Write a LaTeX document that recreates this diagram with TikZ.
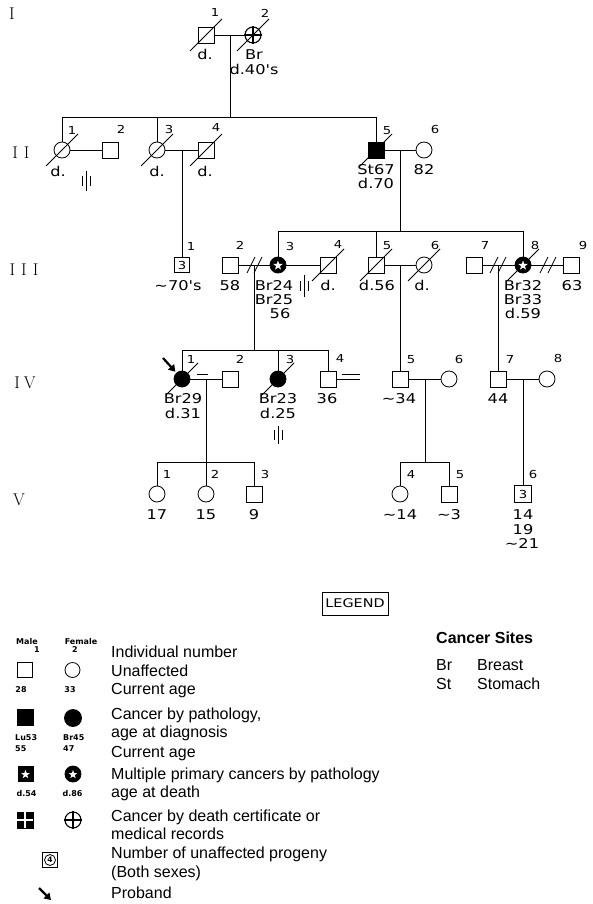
\documentclass[tikz,border=0pt]{standalone}
\usepackage{fontspec}
\newfontfamily\legf{Liberation Sans}
\newfontfamily\pedf[FakeStretch=1.2]{DejaVu Sans}
\newfontfamily\smf{DejaVu Sans}
\usetikzlibrary{shapes.geometric,arrows.meta}
\newcommand\deceased[1]{\draw[slash] ([shift={(-16,16)}]#1.center) -- ([shift={(16,-16)}]#1.center);}
\newcommand\divmark[1]{\draw[ln] ([shift={(-4,8)}]#1) -- ([shift={(4,-8)}]#1);}
\newcommand\nochild[2]{\draw[ln] ([shift={(0,-#2)}]#1) -- ([shift={(0,#2)}]#1);
  \draw[ln] ([shift={(-4,-5)}]#1) -- ([shift={(-4,5)}]#1);
  \draw[ln] ([shift={(4,-5)}]#1) -- ([shift={(4,5)}]#1);}
\tikzset{
  ln/.style={line width=0.8pt},
  slash/.style={line width=0.8pt},
  male/.style={draw, rectangle, minimum size=16pt, inner sep=0pt, line width=0.8pt},
  fem/.style={draw, circle, minimum size=16pt, inner sep=0pt, line width=0.8pt},
  aff/.style={fill=black},
  starw/.style={star, star points=5, star point ratio=2.4, fill=white, draw=none, minimum size=10pt, inner sep=0pt},
  num/.style={font=\pedf\fontsize{11}{12}\selectfont, inner sep=0pt, text height=8pt, text depth=0pt},
  txt/.style={font=\pedf\fontsize{13.5}{14}\selectfont, inner sep=0pt, text height=10pt, text depth=0pt},
  gen/.style={font=\rmfamily\fontsize{17}{18}\selectfont, inner sep=0pt},
  legt/.style={font=\legf\fontsize{16}{18}\selectfont, anchor=west, inner sep=0pt, text height=11.5pt, text depth=3.5pt},
  legs/.style={font=\smf\bfseries\fontsize{8}{9}\selectfont, inner sep=0pt},
  proband/.style={line width=2.2pt, -{Triangle[length=6.5pt,width=8pt]}},
}
\begin{document}
\begin{tikzpicture}[x=1pt,y=-1pt]
\useasboundingbox (0,0) rectangle (592,904);
\fill[white] (0,0) rectangle (592,904);

% generation numerals
\node[gen] (gI) at (12,14) {I};
\node[gen] (gII) at (21,153) {I\hspace{6pt}I};
\node[gen] (gIII) at (24,270) {I\hspace{6pt}I\hspace{6pt}I};
\node[gen] (gIV) at (25,383) {I\hspace{4pt}V};
\node[gen] (gV) at (19,500) {V};

% ---------- Generation I
\node[male] (I1) at (206,35) {};
\node[fem, line width=1.1pt] (I2) at (253,35) {};
\draw[line width=1.8pt] (I2.north) -- (I2.south) (I2.west) -- (I2.east);
\draw[ln] (I1) -- (I2);
\coordinate (mI) at (230,35);
\coordinate (sII) at (230,117);
\draw[ln] (mI) -- (sII);
\deceased{I1} \deceased{I2}
\node[num] (nI1) at (215,13) {1};
\node[num] (nI2) at (265,14) {2};
\node[txt] (aI1) at (205,55) {d.};
\node[txt] (aI2a) at (254,55) {Br};
\node[txt] (aI2b) at (254,70) {d.40's};

% ---------- Generation II
\node[fem] (II1) at (62,150) {};
\node[male] (II2) at (110,150) {};
\node[fem] (II3) at (157,150) {};
\node[male] (II4) at (206,150) {};
\node[male, aff] (II5) at (376,150) {};
\node[fem] (II6) at (424,150) {};
\coordinate (sIIa) at (62,117);
\coordinate (sIIb) at (376,117);
\coordinate (sIIc) at (157,117);
\draw[ln] (II1) -- (sIIa) -- (sIIb) -- (II5);
\draw[ln] (II3) -- (sIIc);
\draw[ln] (II1) -- (II2);
\draw[ln] (II3) -- (II4);
\draw[ln] (II5) -- (II6);
\deceased{II1} \deceased{II3} \deceased{II4} \deceased{II5}
\coordinate (nc1) at (86,181);
\nochild{nc1}{10}
\node[num] (nII1) at (72,131) {1};
\node[num] (nII2) at (121,130) {2};
\node[num] (nII3) at (169,130) {3};
\node[num] (nII4) at (216,128) {4};
\node[num] (nII5) at (387,131) {5};
\node[num] (nII6) at (435,130) {6};
\node[txt] (aII1) at (58,172) {d.};
\node[txt] (aII3) at (157,172) {d.};
\node[txt] (aII4) at (205,172) {d.};
\node[txt] (aII5a) at (376,170) {St67};
\node[txt] (aII5b) at (376,184) {d.70};
\node[txt] (aII6) at (424,170) {82};
\coordinate (m34) at (182,150);
\coordinate (m56) at (400,150);
\coordinate (sIIIc) at (400,231);
\draw[ln] (m56) -- (sIIIc);

% ---------- Generation III
\node[male, minimum size=15pt, font=\pedf\fontsize{11}{12}\selectfont] (III1) at (182,265) {3};
\node[male] (III2) at (230,265) {};
\node[fem, aff] (III3) at (278,265) {};
\node[male] (III4) at (328,265) {};
\node[male] (III5) at (376,265) {};
\node[fem] (III6) at (424,265) {};
\node[male] (III7) at (474,265) {};
\node[fem, aff] (III8) at (523,265) {};
\node[male] (III9) at (571,265) {};
\draw[ln] (m34) -- (III1);
\coordinate (sIIIa) at (278,231);
\coordinate (sIIIb) at (523,231);
\coordinate (sIIId) at (376,231);
\draw[ln] (III3) -- (sIIIa) -- (sIIIb) -- (III8);
\draw[ln] (III5) -- (sIIId);
\draw[ln] (III2) -- (III3);
\draw[ln] (III3) -- (III4);
\draw[ln] (III5) -- (III6);
\draw[ln] (III7) -- (III8);
\draw[ln] (III8) -- (III9);
\coordinate (dv1) at (251,265); \coordinate (dv2) at (258,265);
\coordinate (dv3) at (494,265); \coordinate (dv4) at (502,265);
\coordinate (dv5) at (544,265); \coordinate (dv6) at (552,265);
\divmark{dv1} \divmark{dv2} \divmark{dv3} \divmark{dv4} \divmark{dv5} \divmark{dv6}
\deceased{III4} \deceased{III5} \deceased{III6} \deceased{III8}
\node[starw] (III3s) at (278,265.5) {};
\node[starw] (III8s) at (523,265.5) {};
\coordinate (nc2) at (304,286);
\nochild{nc2}{11}
\node[num] (nIII1) at (191,246) {1};
\node[num] (nIII2) at (240,245) {2};
\node[num] (nIII3) at (290,246) {3};
\node[num] (nIII4) at (338,244) {4};
\node[num] (nIII5) at (387,245) {5};
\node[num] (nIII6) at (435,245) {6};
\node[num] (nIII7) at (485,245) {7};
\node[num] (nIII8) at (535,245) {8};
\node[num] (nIII9) at (583,245) {9};
\node[txt] (aIII1) at (178,285) {\textasciitilde70's};
\node[txt] (aIII2) at (230,285) {58};
\node[txt] (aIII3a) at (274,285) {Br24};
\node[txt] (aIII3b) at (274,299) {Br25};
\node[txt] (aIII3c) at (280,313) {56};
\node[txt] (aIII4) at (328,285) {d.};
\node[txt] (aIII5) at (377,285) {d.56};
\node[txt] (aIII6) at (422,285) {d.};
\node[txt] (aIII8a) at (523,285) {Br32};
\node[txt] (aIII8b) at (523,299) {Br33};
\node[txt] (aIII8c) at (523,313) {d.59};
\node[txt] (aIII9) at (572,285) {63};
\coordinate (m23) at (254,265);
\coordinate (sIVd) at (254,350);
\draw[ln] (m23) -- (sIVd);
\coordinate (m56b) at (400,265);
\coordinate (m78) at (498,265);

% ---------- Generation IV
\node[fem, aff] (IV1) at (182,379) {};
\node[male] (IV2) at (230,379) {};
\node[fem, aff] (IV3) at (278,379) {};
\node[male] (IV4) at (328,379) {};
\node[male] (IV5) at (400,379) {};
\node[fem] (IV6) at (449,379) {};
\node[male] (IV7) at (498,379) {};
\node[fem] (IV8) at (547,379) {};
\draw[ln] (m56b) -- (IV5);
\draw[ln] (m78) -- (IV7);
\coordinate (sIVa) at (182,350);
\coordinate (sIVb) at (328,350);
\coordinate (sIVc) at (278,350);
\draw[ln] (IV1) -- (sIVa) -- (sIVb) -- (IV4);
\draw[ln] (IV3) -- (sIVc);
\draw[ln] (IV1) -- (IV2);
\draw[ln] (IV5) -- (IV6);
\draw[ln] (IV7) -- (IV8);
\coordinate (e4) at (360,379);
\draw[ln] (IV4) -- (e4);
\coordinate (eqa1) at (197,374.5); \coordinate (eqa2) at (208,374.5);
\coordinate (eqb1) at (342,374.5); \coordinate (eqb2) at (360,374.5);
\draw[ln] (eqa1) -- (eqa2);
\draw[ln] (eqb1) -- (eqb2);
\deceased{IV1} \deceased{IV3}
\coordinate (pa) at (163,358);
\draw[proband, shorten >=1.5pt] (pa) -- (IV1);
\coordinate (nc3) at (278,435);
\nochild{nc3}{9}
\node[num] (nIV1) at (191,359) {1};
\node[num] (nIV2) at (240,359) {2};
\node[num] (nIV3) at (290,359) {3};
\node[num] (nIV4) at (340,358) {4};
\node[num] (nIV5) at (411,359) {5};
\node[num] (nIV6) at (459,359) {6};
\node[num] (nIV7) at (510,359) {7};
\node[num] (nIV8) at (558,358) {8};
\node[txt] (aIV1a) at (183,398) {Br29};
\node[txt] (aIV1b) at (183,413) {d.31};
\node[txt] (aIV3a) at (278,398) {Br23};
\node[txt] (aIV3b) at (278,413) {d.25};
\node[txt] (aIV4) at (327,398) {36};
\node[txt] (aIV5) at (399,398) {\textasciitilde34};
\node[txt] (aIV7) at (498,398) {44};
\coordinate (m12) at (206,379);
\coordinate (sVb) at (206,462);
\draw[ln] (m12) -- (sVb);
\coordinate (m56c) at (425,379);
\coordinate (sVd) at (425,462);
\draw[ln] (m56c) -- (sVd);
\coordinate (m78b) at (523,379);

% ---------- Generation V
\node[fem] (V1) at (157,494) {};
\node[fem] (V2) at (206,494) {};
\node[male] (V3) at (254,494) {};
\node[fem] (V4) at (400,494) {};
\node[male] (V5) at (449,494) {};
\node[male, minimum size=17pt, font=\pedf\fontsize{11}{12}\selectfont] (V6) at (523,494) {3};
\coordinate (sVa) at (157,462);
\coordinate (sVc) at (254,462);
\draw[ln] (V1) -- (sVa) -- (sVc) -- (V3);
\draw[ln] (V2) -- (sVb);
\coordinate (sVe) at (400,462);
\coordinate (sVf) at (449,462);
\draw[ln] (V4) -- (sVe) -- (sVf) -- (V5);
\draw[ln] (m78b) -- (V6);
\node[num] (nV1) at (167,474) {1};
\node[num] (nV2) at (215,474) {2};
\node[num] (nV3) at (265,474) {3};
\node[num] (nV4) at (411,474) {4};
\node[num] (nV5) at (460,474) {5};
\node[num] (nV6) at (533,474) {6};
\node[txt] (aV1) at (157,514) {17};
\node[txt] (aV2) at (206,514) {15};
\node[txt] (aV3) at (254,514) {9};
\node[txt] (aV4) at (400,514) {\textasciitilde14};
\node[txt] (aV5) at (449,514) {\textasciitilde3};
\node[txt] (aV6a) at (523,514) {14};
\node[txt] (aV6b) at (523,529) {19};
\node[txt] (aV6c) at (522,543) {\textasciitilde21};

% ---------- Legend
\node[draw, line width=0.8pt, font=\pedf\fontsize{12}{13}\selectfont, minimum width=66pt, minimum height=23pt, inner sep=0pt] (legend) at (355,603.5) {LEGEND};

\node[legs] (lMale) at (27,642) {Male};
\node[legs] (lFemale) at (81,642) {Female};
\node[legs] (l1) at (37,650) {1};
\node[legs] (l2) at (75,650) {2};
\node[male, minimum size=15pt] (LM) at (25,670) {};
\node[fem, minimum size=15pt] (LF) at (72.5,670) {};
\node[legs] (l28) at (21,690) {28};
\node[legs] (l33) at (70,690) {33};
\node[male, aff] (LMa) at (25,717) {};
\node[fem, aff, minimum size=17pt] (LFa) at (73,718) {};
\node[legs, anchor=west] (lLu) at (15,738) {Lu53};
\node[legs, anchor=west] (l55) at (15,749) {55};
\node[legs, anchor=west] (lBr) at (63,738) {Br45};
\node[legs, anchor=west] (l47) at (63,749) {47};
\node[male, aff, minimum size=15pt] (LMs) at (25.5,774) {};
\node[starw, minimum size=9pt] (LMss) at (25.5,774.5) {};
\node[fem, aff] (LFs) at (73,774) {};
\node[starw, minimum size=9pt] (LFss) at (73,774.5) {};
\node[legs] (ld54) at (26.5,794) {d.54};
\node[legs] (ld86) at (72.5,794) {d.86};
\node[male, aff] (LMq) at (25,820) {};
\draw[white, line width=2.2pt] (LMq.north) -- (LMq.south) (LMq.west) -- (LMq.east);
\node[fem, line width=1.1pt] (LFq) at (73,820) {};
\draw[line width=1.6pt] (LFq.north) -- (LFq.south) (LFq.west) -- (LFq.east);
\node[male, minimum size=15pt, line width=1pt] (LP) at (50,860) {};
\node[draw, circle, minimum size=11pt, inner sep=0pt, line width=0.8pt, font=\smf\bfseries\fontsize{7.5}{8}\selectfont] (LPc) at (50,860) {4};
\coordinate (lpa) at (39,888);
\coordinate (lpb) at (51,900);
\draw[proband] (lpa) -- (lpb);

\node[legt] (lt1) at (111,653) {Individual number};
\node[legt] (lt2) at (111,672) {Unaffected};
\node[legt] (lt3) at (111,690) {Current age};
\node[legt] (lt4) at (111,715) {Cancer by pathology,};
\node[legt] (lt5) at (111,733) {age at diagnosis};
\node[legt] (lt6) at (111,753) {Current age};
\node[legt] (lt7) at (111,775) {Multiple primary cancers by pathology};
\node[legt] (lt8) at (111,793) {age at death};
\node[legt] (lt9) at (111,817) {Cancer by death certificate or};
\node[legt] (lt10) at (111,835) {medical records};
\node[legt] (lt11) at (111,854) {Number of unaffected progeny};
\node[legt] (lt12) at (111,873) {(Both sexes)};
\node[legt] (lt13) at (111,894) {Proband};

\node[font=\legf\bfseries\fontsize{16}{18}\selectfont, anchor=west, inner sep=0pt, text height=11.5pt, text depth=3.5pt] (cs) at (436,639) {Cancer Sites};
\node[legt] (cBr) at (436,666) {Br};
\node[legt] (cBrt) at (477,666) {Breast};
\node[legt] (cSt) at (436,685) {St};
\node[legt] (cStt) at (477,685) {Stomach};
\end{tikzpicture}
\end{document}
